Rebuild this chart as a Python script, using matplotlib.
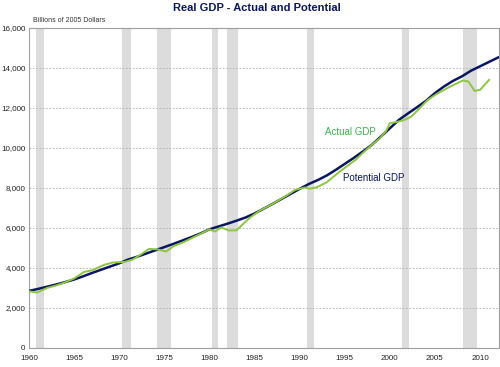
import numpy as np
from matplotlib import pyplot as plt

# recession bands (start, end)
rec_start = [1960.8, 1970.3, 1974.2, 1980.3, 1981.9, 1990.8, 2001.4, 2008.1]
rec_end = [1961.7, 1971.3, 1975.7, 1981.0, 1983.2, 1991.6, 2002.1, 2009.7]

pot_years = np.arange(1960, 2013)
pot_gdp = [2850, 2950, 3060, 3170, 3290, 3420, 3580, 3750, 3910, 4070,
           4230, 4420, 4560, 4720, 4880, 5040, 5200, 5370, 5540, 5720,
           5930, 6070, 6210, 6360, 6520, 6720, 6960, 7200, 7450, 7700,
           7950, 8190, 8390, 8620, 8900, 9200, 9500, 9820, 10150, 10560,
           10980, 11400, 11720, 12030, 12350, 12740, 13070, 13350, 13580, 13860,
           14080, 14300, 14520]

act_years = [1960.0, 1960.9, 1962.0, 1963.0, 1964.0, 1965.0, 1966.1, 1967.0,
             1968.3, 1969.3, 1970.6, 1971.5, 1972.5, 1973.3, 1974.2, 1975.2,
             1976.0, 1977.0, 1978.0, 1979.0, 1980.0, 1980.6, 1981.3, 1982.2,
             1983.0, 1984.4, 1985.6, 1987.0, 1988.5, 1989.5, 1990.6, 1991.1,
             1991.9, 1993.0, 1994.4, 1995.2, 1996.2, 1997.0, 1998.0, 1998.9,
             1999.6, 2000.0, 2000.8, 2001.5, 2002.4, 2003.3, 2004.2, 2005.2,
             2006.7, 2008.1, 2008.7, 2009.4, 2010.0, 2011.0]
act_gdp = [2830, 2770, 3000, 3120, 3280, 3470, 3800, 3880,
           4150, 4270, 4300, 4420, 4700, 4950, 4930, 4820,
           5080, 5260, 5480, 5700, 5930, 5820, 6020, 5870,
           5880, 6480, 6870, 7200, 7600, 7900, 8020, 7960,
           8030, 8280, 8800, 9070, 9400, 9750, 10150, 10480,
           10850, 11230, 11300, 11380, 11570, 11980, 12400, 12700,
           13070, 13370, 13320, 12850, 12900, 13400]

navy = "#0b1660"
green = "#8dc63f"

fig = plt.figure(figsize=(5, 3.67), dpi=100)
ax = fig.add_axes([0.058, 0.052, 0.94, 0.872])

for s, e in zip(rec_start, rec_end):
    ax.axvspan(s, e, color="#dcdcdc", lw=0, zorder=0)

for yv in range(2000, 16000, 2000):
    ax.axhline(yv, color="#b0b0b0", lw=0.6, ls=(0, (2, 2)), zorder=1)

ax.plot(pot_years, pot_gdp, color=navy, lw=1.8, zorder=3)
ax.plot(act_years, act_gdp, color=green, lw=1.4, zorder=4)

ax.set_xlim(1960, 2012.1)
ax.set_ylim(0, 16000)
ax.set_xticks(range(1960, 2011, 5))
ax.set_yticks(range(0, 16001, 2000))
ax.set_yticklabels([f"{v:,}" for v in range(0, 16001, 2000)])
for lab in ax.get_xticklabels() + ax.get_yticklabels():
    lab.set_family("Liberation Sans")
    lab.set_fontsize(5.8)
    lab.set_color("#222222")
ax.tick_params(axis="y", length=0, pad=2.5)
ax.tick_params(axis="x", length=0, pad=5)

for sp in ax.spines.values():
    sp.set_color("#a0a0a0")
    sp.set_linewidth(0.8)

fig.text(0.514, 0.979, "Real GDP - Actual and Potential", ha="center", va="center",
         fontsize=8, fontweight="bold", color=navy, family="Liberation Sans")
fig.text(0.066, 0.945, "Billions of 2005 Dollars", ha="left", va="center",
         fontsize=5, color="#333333", family="Liberation Sans")
ax.text(1995.6, 10800, "Actual GDP", color="#3cb44a", fontsize=7, ha="center", va="center",
        family="Liberation Sans")
ax.text(1998.2, 8500, "Potential GDP", color=navy, fontsize=7, ha="center", va="center",
        family="Liberation Sans")

fig.savefig("out.png", dpi=100)
